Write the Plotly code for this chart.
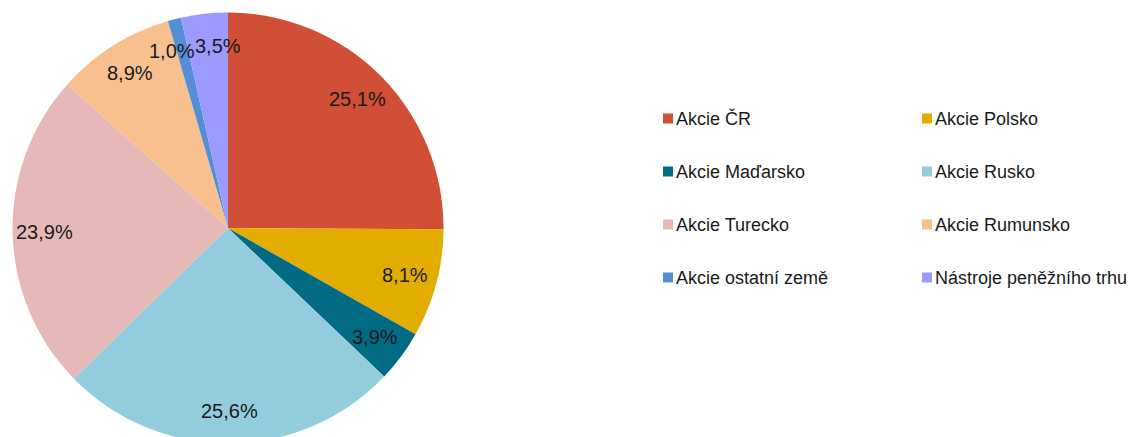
import math
import plotly.graph_objects as go

categories = ["Akcie ČR", "Akcie Polsko", "Akcie Maďarsko", "Akcie Rusko",
              "Akcie Turecko", "Akcie Rumunsko", "Akcie ostatní země", "Nástroje peněžního trhu"]
values = [25.1, 8.1, 3.9, 25.6, 23.9, 8.9, 1.0, 3.5]
colors = ["#D14F37", "#E3AD00", "#016B84", "#93CDDD", "#E6B9B8", "#F9C08F", "#558ED5", "#9A9AFF"]

W, H = 1141, 456  # figure taller than window; bottom of pie is clipped as in the reference
FONT = "Liberation Sans, Arial"
LABEL_SIZE = 20

# pie geometry (pixels)
px0, px1 = 12.5, 443.5
cx = (px0 + px1) / 2
cy = H / 2
R = min(px1 - px0, H) / 2

fig = go.Figure()
fig.add_trace(go.Pie(
    labels=categories, values=values, sort=False, direction="clockwise", rotation=0,
    marker=dict(colors=colors, line=dict(width=0)),
    textinfo="none",
    domain=dict(x=[px0 / W, px1 / W], y=[0, 1]),
    showlegend=False, hoverinfo="label+percent",
))

annotations = []
shapes = []

# data labels (Excel-like best-fit placement at ~0.85 R), with simple overlap resolution
char_w = {",": 0.278, "%": 0.889}
total = sum(values)
cum = 0.0
labels = []
for v in values:
    mid = (cum + v / 2) / total * 2 * math.pi
    cum += v
    rr = 0.85 * R
    x = cx + rr * math.sin(mid)
    y = cy - rr * math.cos(mid)
    txt = f"{v / total * 100:.1f}".replace(".", ",") + "%"
    w = sum(char_w.get(c, 0.556) for c in txt) * LABEL_SIZE
    labels.append([x, y, txt, w])

for _ in range(20):
    for i in range(len(labels)):
        for j in range(i + 1, len(labels)):
            a, b = labels[i], labels[j]
            need = (a[3] + b[3]) / 2 + 1
            if abs(a[1] - b[1]) < LABEL_SIZE and abs(a[0] - b[0]) < need:
                push = (need - abs(a[0] - b[0])) / 2
                if a[0] <= b[0]:
                    a[0] -= push; b[0] += push
                else:
                    a[0] += push; b[0] -= push

for x, y, txt, w in labels:
    annotations.append(dict(text=txt, xref="paper", yref="paper", x=x / W, y=1 - y / H,
                            xanchor="center", yanchor="middle", showarrow=False,
                            font=dict(family=FONT, size=LABEL_SIZE, color="#1a1a1a")))

# legend: two columns, row-wise order
col_x = [663, 922]
row_y = [118.5, 171.5, 224.5, 277.5]
for i, (cat, col) in enumerate(zip(categories, colors)):
    sx = col_x[i % 2]
    sy = row_y[i // 2]
    shapes.append(dict(type="rect", xref="paper", yref="paper",
                       x0=sx / W, x1=(sx + 10) / W, y0=1 - (sy + 5) / H, y1=1 - (sy - 5) / H,
                       fillcolor=col, line=dict(width=0)))
    annotations.append(dict(text=cat, xref="paper", yref="paper", x=(sx + 11) / W, y=1 - sy / H,
                            xanchor="left", yanchor="middle", showarrow=False,
                            font=dict(family=FONT, size=18, color="#1a1a1a")))

fig.update_layout(
    width=W, height=H, margin=dict(l=0, r=0, t=0, b=0),
    paper_bgcolor="white", plot_bgcolor="white",
    shapes=shapes, annotations=annotations,
)
fig.write_html(
    "out.html",
    config={"displayModeBar": False},
    post_script="document.body.style.margin='0';document.body.style.overflow='hidden';"
                "document.documentElement.style.overflow='hidden';",
)
